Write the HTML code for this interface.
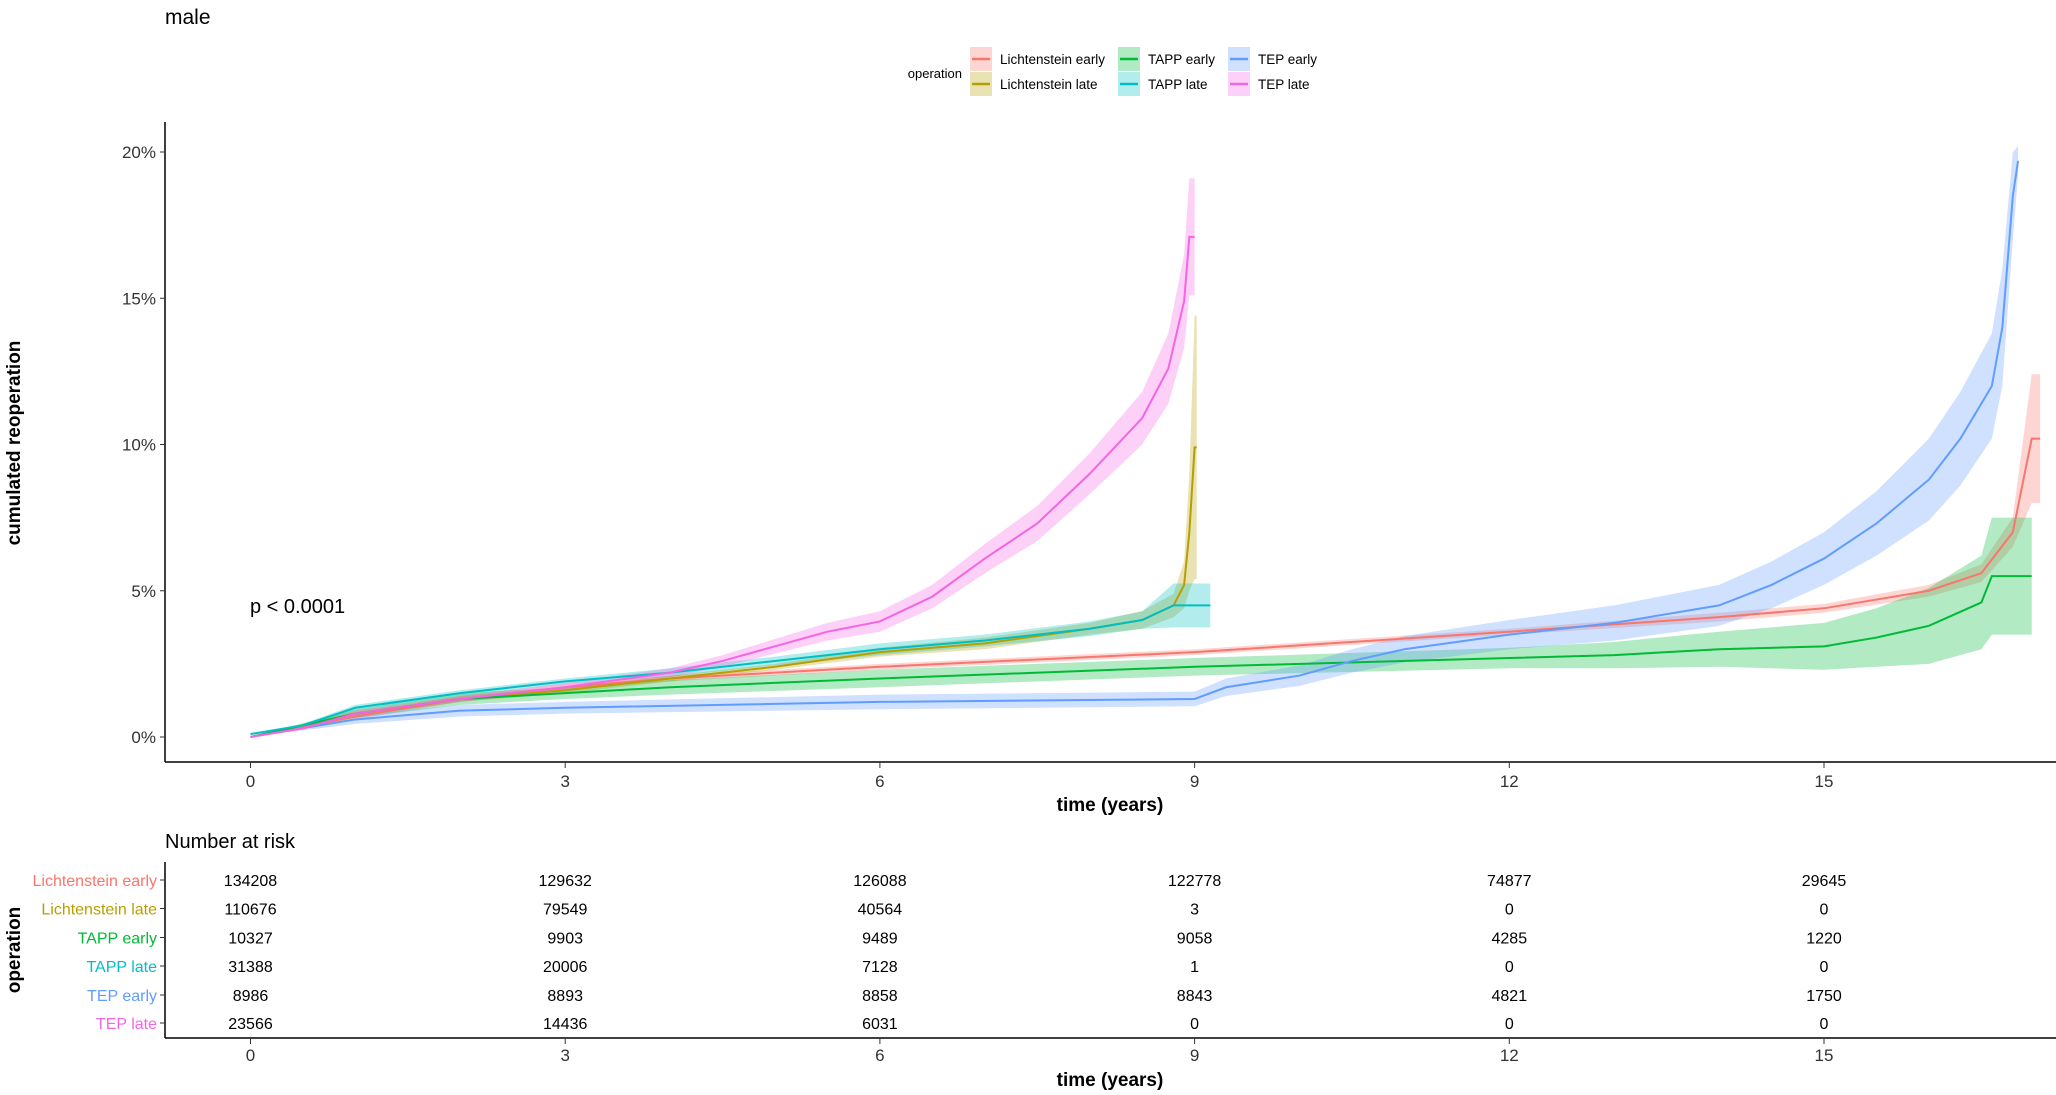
<!DOCTYPE html>
<html><head><meta charset="utf-8"><style>
html,body{margin:0;padding:0;background:#fff;}
svg{display:block;font-family:"Liberation Sans",Arial,sans-serif;}
</style></head><body>
<svg id="chart" width="2056" height="1095" viewBox="0 0 2056 1095" xmlns="http://www.w3.org/2000/svg">
<text x="165" y="24" font-size="21" fill="#000">male</text>
<g id="legend"></g>
<g id="plot"></g>
<g id="risk"></g>
</svg>
<script>
const NS="http://www.w3.org/2000/svg";
const groups=["Lichtenstein early","Lichtenstein late","TAPP early","TAPP late","TEP early","TEP late"];
const colors=["#F8766D","#B79F00","#00BA38","#00BFC4","#619CFF","#F564E3"];
const yTicks=[0,5,10,15,20];
const xTicks=[0,3,6,9,12,15];
// time (years), estimate (%), CI half-width (%)
const tLE=[0,1,2,3,4,6,9,12,14,15,16,16.5,16.8,16.98,17.06];
const vLE=[0,0.7,1.3,1.7,2.0,2.4,2.9,3.6,4.1,4.4,5.0,5.6,7.0,10.2,10.2];
const cLE=[0,0.1,0.1,0.1,0.1,0.1,0.1,0.1,0.15,0.15,0.2,0.3,0.5,2.2,2.2];
const tLL=[0,1,2,3,4,5,6,7,8,8.5,8.8,8.9,8.95,9.0,9.02];
const vLL=[0,0.8,1.3,1.6,2.0,2.4,2.9,3.2,3.7,4.0,4.5,5.2,7.0,9.9,9.9];
const cLL=[0,0.1,0.1,0.1,0.1,0.1,0.15,0.2,0.2,0.3,0.4,0.8,2,4.5,4.5];
const tTE=[0,1,2,3,4,6,9,12,13,14,15,15.5,16,16.5,16.6,16.98];
const vTE=[0,0.8,1.3,1.5,1.7,2.0,2.4,2.7,2.8,3.0,3.1,3.4,3.8,4.6,5.5,5.5];
const cTE=[0,0.15,0.2,0.2,0.25,0.3,0.3,0.35,0.45,0.6,0.8,1.0,1.3,1.6,2.0,2.0];
const tTL=[0,0.5,1,2,3,4,5,6,7,8,8.5,8.8,9.15];
const vTL=[0.1,0.4,1.0,1.5,1.9,2.2,2.6,3.0,3.3,3.7,4.0,4.5,4.5];
const cTL=[0,0.05,0.1,0.1,0.1,0.15,0.15,0.2,0.2,0.25,0.3,0.75,0.75];
const tEE=[0,1,2,3,6,9,9.3,10,10.5,11,12,13,14,14.5,15,15.5,16,16.3,16.6,16.7,16.8,16.85];
const vEE=[0,0.6,0.9,1.0,1.2,1.3,1.7,2.1,2.6,3.0,3.5,3.9,4.5,5.2,6.1,7.3,8.8,10.2,12.0,14.0,18.5,19.7];
const cEE=[0,0.15,0.2,0.2,0.25,0.25,0.3,0.35,0.4,0.45,0.5,0.6,0.7,0.8,0.9,1.1,1.4,1.6,1.8,2,1.5,0.5];
const tEL=[0,0.5,1,2,3,4,4.5,5,5.5,6,6.5,7,7.5,8,8.5,8.75,8.9,8.95,9.0];
const vEL=[0,0.3,0.8,1.3,1.7,2.2,2.6,3.1,3.6,3.95,4.8,6.1,7.3,9.0,10.9,12.6,14.9,17.1,17.1];
const cEL=[0,0.05,0.1,0.1,0.15,0.15,0.2,0.25,0.3,0.35,0.4,0.5,0.6,0.7,0.9,1.2,1.6,2,2];
const seriesT=[tLE,tLL,tTE,tTL,tEE,tEL];
const seriesV=[vLE,vLL,vTE,vTL,vEE,vEL];
const seriesC=[cLE,cLL,cTE,cTL,cEE,cEL];
const risk0=[134208,110676,10327,31388,8986,23566];
const risk3=[129632,79549,9903,20006,8893,14436];
const risk6=[126088,40564,9489,7128,8858,6031];
const risk9=[122778,3,9058,1,8843,0];
const risk12=[74877,0,4285,0,4821,0];
const risk15=[29645,0,1220,0,1750,0];
const riskCols=[risk0,risk3,risk6,risk9,risk12,risk15];

const X=t=>250.5+104.9*t;
const Y=v=>737-29.25*v;
function el(tag,attrs,parent,text){const e=document.createElementNS(NS,tag);for(const k in attrs)e.setAttribute(k,attrs[k]);if(text!==undefined)e.textContent=text;parent.appendChild(e);return e;}
const plot=document.getElementById('plot');
// axes
let a=el('line',{x1:165,y1:122,x2:165,y2:762,stroke:'#000','stroke-width':1.5},plot);


a=el('line',{x1:165,y1:762,x2:2056,y2:762,stroke:'#000','stroke-width':1.5},plot);


yTicks.forEach(v=>{
  el('line',{x1:160,y1:Y(v),x2:165,y2:Y(v),stroke:'#333'},plot);
  const t=el('text',{x:156,y:Y(v)+6,'text-anchor':'end','font-size':17,fill:'#333'},plot,v+'%');
  
  
});
xTicks.forEach(v=>{
  el('line',{x1:X(v),y1:762,x2:X(v),y2:768,stroke:'#333'},plot);
  const t=el('text',{x:X(v),y:787,'text-anchor':'middle','font-size':17,fill:'#333'},plot,v);
  
  
});
let tt=el('text',{x:1110,y:811,'text-anchor':'middle','font-size':19,'font-weight':'bold',fill:'#000'},plot,'time (years)');


tt=el('text',{x:20,y:443,'text-anchor':'middle','font-size':19,'font-weight':'bold',fill:'#000',transform:'rotate(-90 20 443)'},plot,'cumulated reoperation');


tt=el('text',{x:250,y:613,'font-size':20,fill:'#000'},plot,'p < 0.0001');


// series
groups.forEach((g,i)=>{
  const T=seriesT[i],V=seriesV[i],C=seriesC[i];
  let up=T.map((t,j)=>X(t)+','+Y(V[j]+C[j]));
  let lo=T.map((t,j)=>X(t)+','+Y(Math.max(0,V[j]-C[j]))).reverse();
  const band=el('polygon',{points:up.concat(lo).join(' '),fill:colors[i],'fill-opacity':0.3,stroke:'none'},plot);
  
  
});
groups.forEach((g,i)=>{
  const T=seriesT[i],V=seriesV[i];
  const line=el('polyline',{points:T.map((t,j)=>X(t)+','+Y(V[j])).join(' '),fill:'none',stroke:colors[i],'stroke-width':2},plot);
  
  
});
// legend
const lg=document.getElementById('legend');
tt=el('text',{x:962,y:78,'text-anchor':'end','font-size':13,fill:'#000'},lg,'operation');


const colX=[970,1118,1228];
groups.forEach((g,i)=>{
  const c=Math.floor(i/2),r=i%2;
  const kx=colX[c],ky=47+r*25;
  const grp=el('g',{},lg);
  
  
  el('rect',{x:kx,y:ky,width:22,height:24,fill:colors[i],'fill-opacity':0.3},grp);
  el('line',{x1:kx+2,y1:ky+12,x2:kx+20,y2:ky+12,stroke:colors[i],'stroke-width':2.5},grp);
  el('text',{x:kx+30,y:ky+17,'font-size':13.5,fill:'#000'},grp,g);
});
// risk table
const rk=document.getElementById('risk');
tt=el('text',{x:165,y:848,'font-size':20,fill:'#000'},rk,'Number at risk');


el('line',{x1:165,y1:862,x2:165,y2:1038,stroke:'#000','stroke-width':1.5},rk);
el('line',{x1:165,y1:1038,x2:2056,y2:1038,stroke:'#000','stroke-width':1.5},rk);
const rowY=[880,908.5,937.5,966,995,1023];
groups.forEach((g,i)=>{
  el('line',{x1:160,y1:rowY[i],x2:165,y2:rowY[i],stroke:'#333'},rk);
  const t=el('text',{x:157,y:rowY[i]+6,'text-anchor':'end','font-size':16,fill:colors[i]},rk,g);
  
  
  riskCols.forEach((col,k)=>{
    const n=el('text',{x:X(xTicks[k]),y:rowY[i]+6,'text-anchor':'middle','font-size':16,fill:'#000'},rk,col[i]);
    
    
  });
});
xTicks.forEach(v=>{
  el('line',{x1:X(v),y1:1038,x2:X(v),y2:1044,stroke:'#333'},rk);
  const t=el('text',{x:X(v),y:1061,'text-anchor':'middle','font-size':17,fill:'#333'},rk,v);
  
  
});
tt=el('text',{x:1110,y:1086,'text-anchor':'middle','font-size':19,'font-weight':'bold',fill:'#000'},rk,'time (years)');


tt=el('text',{x:20,y:950,'text-anchor':'middle','font-size':19,'font-weight':'bold',fill:'#000',transform:'rotate(-90 20 950)'},rk,'operation');


</script>
</body></html>
